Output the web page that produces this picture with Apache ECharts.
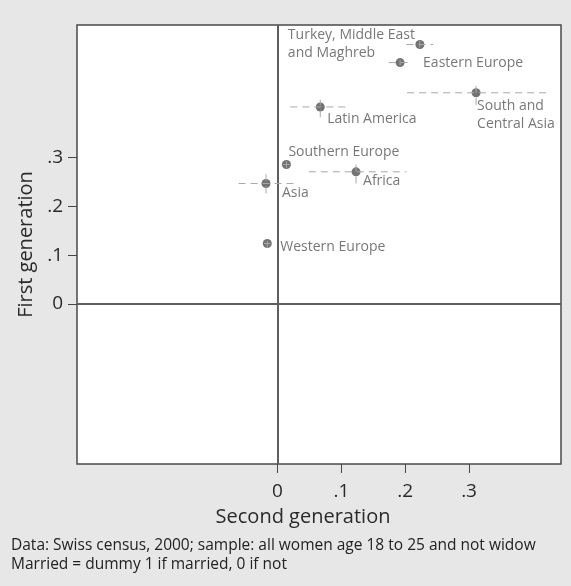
<!DOCTYPE html>
<html>
<head>
<meta charset="utf-8">
<script src="https://cdn.jsdelivr.net/npm/echarts@6/dist/echarts.min.js"></script>
<style>
html,body{margin:0;padding:0;background:#e7e7e8;}
#c{width:571px;height:586px;}
</style>
</head>
<body>
<div id="c"></div>
<script>
// ---- data ----
var regions = ["Turkey, Middle East\nand Maghreb", "Eastern Europe", "South and\nCentral Asia", "Latin America", "Southern Europe", "Africa", "Asia", "Western Europe"];
var secondGen = [0.223, 0.192, 0.311, 0.067, 0.014, 0.123, -0.018, -0.016];
var firstGen  = [0.532, 0.495, 0.433, 0.404, 0.286, 0.271, 0.247, 0.124];
var secondLo  = [0.202, 0.174, 0.203, 0.020, 0.009, 0.049, -0.061, -0.021];
var secondHi  = [0.244, 0.211, 0.425, 0.111, 0.019, 0.202, 0.025, -0.011];
var firstLo   = [0.526, 0.489, 0.408, 0.383, 0.279, 0.247, 0.227, 0.115];
var firstHi   = [0.539, 0.501, 0.450, 0.419, 0.293, 0.296, 0.267, 0.133];
var tickValues = [0, 0.1, 0.2, 0.3];
var tickLabels = ["0", ".1", ".2", ".3"];
var footnote = "Data: Swiss census, 2000; sample: all women age 18 to 25 and not widow\nMarried = dummy 1 if married, 0 if not";

// ---- label placement (styling) ----
var labelPlace = [
  {dx: -5, dy: 0, align: 'right'},
  {dx: 23, dy: 0, align: 'left'},
  {dx: 1, dy: 22, align: 'left'},
  {dx: 7, dy: 12, align: 'left'},
  {dx: 2, dy: -12, align: 'left'},
  {dx: 7, dy: 9, align: 'left'},
  {dx: 16, dy: 9, align: 'left'},
  {dx: 13, dy: 3, align: 'left'}
];

var FONT = "'Open Sans', sans-serif";
var SYM = 9;

function fmtTick(v) {
  var i = tickValues.indexOf(Math.round(v * 10) / 10);
  return i >= 0 ? tickLabels[i] : '';
}

var pointData = regions.map(function (n, i) {
  var p = labelPlace[i];
  return {
    name: n,
    value: [secondGen[i], firstGen[i]],
    label: {
      position: [SYM / 2 + p.dx, SYM / 2 + p.dy],
      align: p.align,
      verticalAlign: 'middle'
    }
  };
});

var barData = regions.map(function (n, i) {
  return [secondGen[i], firstGen[i], secondLo[i], secondHi[i], firstLo[i], firstHi[i]];
});

var chart = echarts.init(document.getElementById('c'), null, {renderer: 'canvas'});
chart.setOption({
  backgroundColor: '#e7e7e8',
  animation: false,
  textStyle: {fontFamily: FONT},
  grid: {
    left: 77, right: 10, top: 25, bottom: 122,
    show: true, backgroundColor: '#ffffff', borderColor: '#4a4a4a', borderWidth: 1.5
  },
  xAxis: {
    type: 'value', min: -0.314, max: 0.444,
    splitLine: {show: false},
    axisLine: {show: false, onZero: false},
    axisTick: {show: true, length: 9, customValues: tickValues, lineStyle: {color: '#444', width: 1}},
    axisLabel: {customValues: tickValues, formatter: fmtTick, color: '#2a2a2a', fontSize: 19, margin: 18, fontFamily: FONT},
    name: 'Second generation', nameLocation: 'middle', nameGap: 43,
    nameTextStyle: {fontSize: 20, color: '#2a2a2a', fontFamily: FONT, padding: [0, 32, 0, 0]}
  },
  yAxis: {
    type: 'value', min: -0.328, max: 0.572,
    splitLine: {show: false},
    axisLine: {show: false, onZero: false},
    axisTick: {show: true, length: 9, customValues: tickValues, lineStyle: {color: '#444', width: 1}},
    axisLabel: {customValues: tickValues, formatter: fmtTick, color: '#2a2a2a', fontSize: 19, margin: 14, fontFamily: FONT},
    name: 'First generation', nameLocation: 'middle', nameGap: 37,
    nameTextStyle: {fontSize: 20, color: '#2a2a2a', fontFamily: FONT}
  },
  graphic: [{
    type: 'text', left: 11, top: 536,
    style: {text: footnote, font: "15.5px 'Open Sans', sans-serif", fill: '#222', lineHeight: 19}
  }],
  series: [
    {
      type: 'scatter',
      data: pointData,
      symbolSize: SYM,
      itemStyle: {color: '#505050'},
      z: 3,
      label: {
        show: true,
        formatter: function (p) {
          return p.name.split('\n').map(function (s) { return '{t|' + s + '}'; }).join('\n');
        },
        rich: {t: {align: 'left', fontSize: 14, lineHeight: 18, color: '#555', fontFamily: FONT}}
      },
      markLine: {
        silent: true, symbol: 'none', label: {show: false},
        lineStyle: {color: '#5e5e5e', width: 2, type: 'solid'},
        data: [{xAxis: 0}, {yAxis: 0}],
        z: 1
      }
    },
    {
      type: 'custom',
      data: barData,
      z: 4,
      silent: true,
      encode: {x: [0, 2, 3], y: [1, 4, 5]},
      renderItem: function (params, api) {
        var y = api.value(1), x = api.value(0);
        var a = api.coord([api.value(2), y]);
        var b = api.coord([api.value(3), y]);
        var c = api.coord([x, api.value(4)]);
        var d = api.coord([x, api.value(5)]);
        var st = {stroke: '#a8a8a8', lineWidth: 1, lineDash: [7, 5]};
        return {
          type: 'group',
          children: [
            {type: 'line', shape: {x1: a[0], y1: a[1], x2: b[0], y2: b[1]}, style: st},
            {type: 'line', shape: {x1: c[0], y1: c[1], x2: d[0], y2: d[1]}, style: st}
          ]
        };
      }
    }
  ]
});
</script>
</body>
</html>
